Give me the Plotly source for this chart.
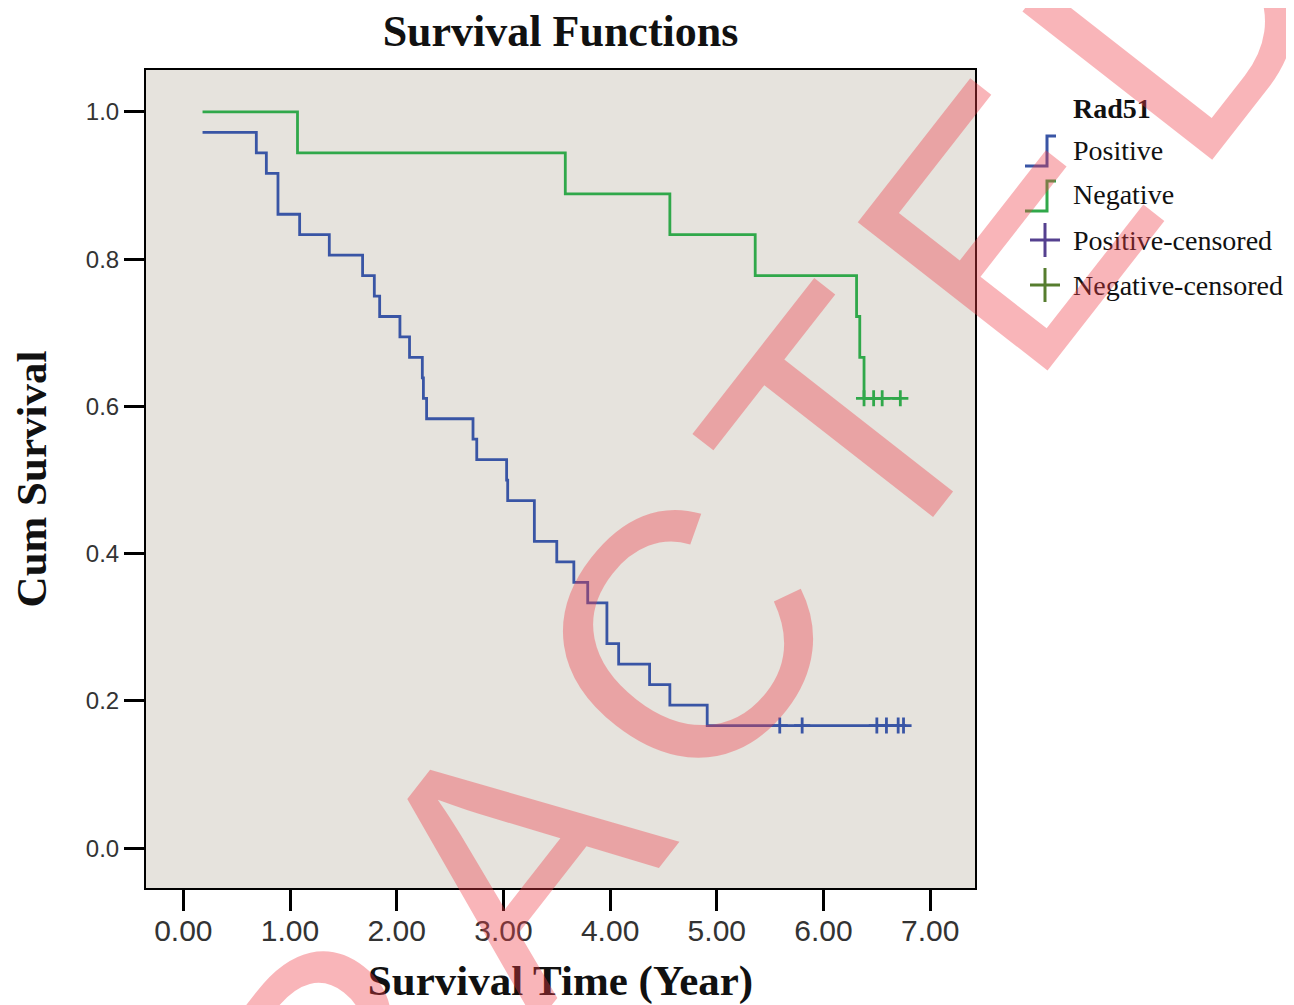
import plotly.graph_objects as go

# ---------------- data ----------------
pos_start_time = 0.18
pos_start_surv = 35 / 36
pos_event_times = [0.684, 0.778, 0.887, 1.09, 1.368, 1.68, 1.79, 1.84, 2.03, 2.12,
                   2.24, 2.25, 2.28, 2.715, 2.75, 3.03, 3.04, 3.29, 3.50, 3.66,
                   3.79, 3.97, 4.08, 4.37, 4.56, 4.91]
pos_surv = [34/36, 33/36, 31/36, 30/36, 29/36, 28/36, 27/36, 26/36, 25/36, 24/36,
            23/36, 22/36, 21/36, 20/36, 19/36, 18/36, 17/36, 15/36, 14/36, 13/36,
            12/36, 10/36, 9/36, 8/36, 7/36, 6/36]
pos_censor_times = [5.59, 5.80, 6.50, 6.59, 6.70, 6.75]

neg_start_time = 0.18
neg_start_surv = 1.0
neg_event_times = [1.07, 3.58, 4.56, 5.36, 6.31, 6.34, 6.38]
neg_surv = [17/18, 16/18, 15/18, 14/18, 13/18, 12/18, 11/18]
neg_censor_times = [6.38, 6.47, 6.55, 6.72]

x_ticks = [0, 1, 2, 3, 4, 5, 6, 7]
y_ticks = [0.0, 0.2, 0.4, 0.6, 0.8, 1.0]

legend_title = "Rad51"
legend_labels = ["Positive", "Negative", "Positive-censored", "Negative-censored"]

# ---------------- style ----------------
BLUE = "#3955a5"
GREEN = "#30a84a"
SERIF = "Liberation Serif"
SANS = "Liberation Sans"

OFF = 8                      # page body margin
W, H = 1294 - OFF, 1005 - OFF
L, R, T, B = 146 - OFF, 975 - OFF, 70 - OFF, 888 - OFF


def px2paper(px, py):
    """reference-screenshot pixel -> paper coords"""
    return (px - OFF - L) / (R - L), (B - (py - OFF)) / (B - T)


def step_xy(t0, s0, times, surv, t_end):
    xs = [t0] + list(times) + [t_end]
    ys = [s0] + list(surv) + [surv[-1]]
    return xs, ys


fig = go.Figure()

px_, py_ = step_xy(pos_start_time, pos_start_surv, pos_event_times, pos_surv, max(pos_censor_times))
nx_, ny_ = step_xy(neg_start_time, neg_start_surv, neg_event_times, neg_surv, max(neg_censor_times))

fig.add_trace(go.Scatter(x=px_, y=py_, mode="lines", line=dict(color=BLUE, width=2.8, shape="hv"),
                         name="Positive", showlegend=False))
fig.add_trace(go.Scatter(x=nx_, y=ny_, mode="lines", line=dict(color=GREEN, width=2.8, shape="hv"),
                         name="Negative", showlegend=False))
fig.add_trace(go.Scatter(x=pos_censor_times, y=[pos_surv[-1]] * len(pos_censor_times), mode="markers",
                         marker=dict(symbol="cross-thin", size=11.5, line=dict(color=BLUE, width=2.8)),
                         name="Positive-censored", showlegend=False))
fig.add_trace(go.Scatter(x=neg_censor_times, y=[neg_surv[-1]] * len(neg_censor_times), mode="markers",
                         marker=dict(symbol="cross-thin", size=11.5, line=dict(color=GREEN, width=2.8)),
                         name="Negative-censored", showlegend=False))

# ---------------- manual legend ----------------
annotations = []
shapes = []
lx_text = 1071
rows_y = [150, 195, 240, 285]
ax_, ay_ = px2paper(lx_text, 109)
annotations.append(dict(xref="paper", yref="paper", x=ax_, y=ay_, xanchor="left", yanchor="middle",
                        text=legend_title, showarrow=False,
                        font=dict(family=SERIF, size=28, color="#111", weight="bold")))
for lab, ry in zip(legend_labels, rows_y):
    ax_, ay_ = px2paper(lx_text, ry)
    annotations.append(dict(xref="paper", yref="paper", x=ax_, y=ay_, xanchor="left", yanchor="middle",
                            text=lab, showarrow=False, font=dict(family=SERIF, size=28, color="#111")))

# step icons
for col, ry in zip([BLUE, GREEN], rows_y[:2]):
    pts = [(1025, ry + 16), (1047, ry + 16), (1047, ry - 14), (1056, ry - 14)]
    pp = [px2paper(a, b) for a, b in pts]
    path = "M " + " L ".join(f"{a},{b}" for a, b in pp)
    shapes.append(dict(type="path", xref="paper", yref="paper", path=path,
                       line=dict(color=col, width=3)))
# cross icons
for col, ry in zip(["#55408f", "#567d2f"], rows_y[2:]):
    x0, y0 = px2paper(1030, ry)
    x1, y1 = px2paper(1060, ry)
    shapes.append(dict(type="line", xref="paper", yref="paper", x0=x0, y0=y0, x1=x1, y1=y1,
                       line=dict(color=col, width=3)))
    x0, y0 = px2paper(1045, ry - 17)
    x1, y1 = px2paper(1045, ry + 17)
    shapes.append(dict(type="line", xref="paper", yref="paper", x0=x0, y0=y0, x1=x1, y1=y1,
                       line=dict(color=col, width=3)))

# watermark
wx, wy = px2paper(522, 845)
annotations.append(dict(xref="paper", yref="paper", x=wx, y=wy, xanchor="center", yanchor="middle",
                        text='<span style="letter-spacing:34px">RETRACTED</span>',
                        showarrow=False, textangle=-52,
                        font=dict(family=SANS, size=350, color="rgba(240,60,70,0.38)")))

fig.update_layout(
    width=W, height=H,
    margin=dict(l=L, r=W - R, t=T, b=H - B, autoexpand=False),
    paper_bgcolor="white",
    plot_bgcolor="#e6e3dd",
    title=dict(text="Survival Functions", x=0.5, xref="paper", xanchor="center",
               y=1 - (31 - OFF) / H, yref="container", yanchor="middle",
               font=dict(family=SERIF, size=44, color="#111", weight="bold")),
    xaxis=dict(range=[-0.35, 7.42], tickvals=x_ticks, tickformat=".2f", automargin=False,
               ticks="outside", ticklen=21, tickwidth=3, tickcolor="black",
               showline=True, mirror=True, linecolor="black", linewidth=2,
               showgrid=False, zeroline=False, ticklabelstandoff=-6,
               tickfont=dict(family=SANS, size=30, color="#333"),
               title=dict(text="Survival Time (Year)", standoff=33,
                          font=dict(family=SERIF, size=43, color="#111", weight="bold"))),
    yaxis=dict(range=[-0.054, 1.057], tickvals=y_ticks, tickformat=".1f", automargin=False,
               ticks="outside", ticklen=20, tickwidth=3, tickcolor="black",
               showline=True, mirror=True, linecolor="black", linewidth=2,
               showgrid=False, zeroline=False,
               tickfont=dict(family=SANS, size=24, color="#333"),
               title=dict(text="Cum Survival", standoff=28,
                          font=dict(family=SERIF, size=43, color="#111", weight="bold"))),
    annotations=annotations,
    shapes=shapes,
    showlegend=False,
)

fig.write_html("out.html")
